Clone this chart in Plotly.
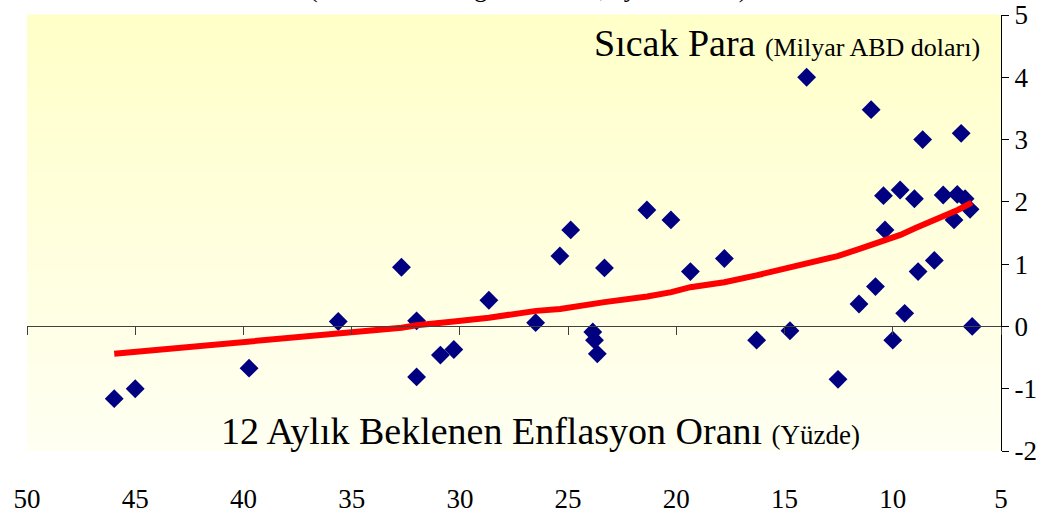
import plotly.graph_objects as go

# Data
inflation = [45.97, 45.0, 39.74, 35.62, 32.7, 32.0, 32.0, 30.9, 30.28, 28.66,
             26.5, 25.38, 24.88, 23.86, 23.78, 23.65, 23.32, 21.36, 20.25, 19.35,
             17.78, 16.29, 14.75, 13.98, 12.53, 11.56, 11.0, 10.8, 10.43, 10.36,
             10.0, 9.66, 9.45, 9.0, 8.83, 8.62, 8.08, 7.67, 7.17, 7.02,
             6.84, 6.66, 6.43, 6.33]
hot_money = [-1.16, -1.0, -0.67, 0.08, 0.95, 0.09, -0.81, -0.46, -0.37, 0.42,
             0.06, 1.13, 1.55, -0.09, -0.22, -0.44, 0.94, 1.87, 1.71, 0.88,
             1.09, -0.22, -0.07, 4.0, -0.85, 0.36, 3.48, 0.64, 2.1, 1.55,
             -0.22, 2.19, 0.21, 2.05, 0.88, 3.0, 1.06, 2.11, 1.71, 2.12,
             3.1, 2.05, 1.88, 0.0]

trend_x = [45.97, 45.0, 42.9, 39.74, 37.36, 35.62, 32.69, 32.0, 30.9, 30.28,
           28.66, 26.48, 25.37, 24.88, 23.84, 23.32, 21.34, 20.23, 19.35, 17.78,
           16.3, 14.77, 13.98, 12.55, 11.57, 10.79, 10.37, 10.0, 9.65, 8.95,
           8.08, 7.69, 7.18, 7.0, 6.44, 6.35]
trend_y = [-0.44, -0.41, -0.35, -0.26, -0.17, -0.11, -0.02, 0.02, 0.05, 0.08,
           0.14, 0.25, 0.28, 0.31, 0.36, 0.39, 0.48, 0.55, 0.63, 0.71,
           0.82, 0.94, 1.02, 1.13, 1.24, 1.33, 1.40, 1.43, 1.47, 1.58,
           1.70, 1.76, 1.84, 1.87, 1.97, 1.99]

x_ticks = [50, 45, 40, 35, 30, 25, 20, 15, 10, 5]
x_tick_labels = ["50", "45", "40", "35", "30", "25", "20", "15", "10", "5"]
y_ticks = [-2, -1, 0, 1, 2, 3, 4, 5]
y_tick_labels = ["-2", "-1", "0", "1", "2", "3", "4", "5"]

title_text = "(Ocak 2002 – Ağustos 2005, aylık veriler)"
y_title = "Sıcak Para"
y_unit = "(Milyar ABD doları)"
x_title = "12 Aylık Beklenen Enflasyon Oranı"
x_unit = "(Yüzde)"

SERIF = "Liberation Serif, Times New Roman, serif"

fig = go.Figure()
fig.add_trace(go.Scatter(
    x=inflation, y=hot_money, mode="markers",
    marker=dict(symbol="diamond", size=14.5, color="#000080",
                line=dict(width=0)),
    xaxis="x", yaxis="y", showlegend=False, hoverinfo="skip"))
fig.add_trace(go.Scatter(
    x=trend_x, y=trend_y, mode="lines",
    line=dict(color="#FF0000", width=6),
    xaxis="x2", yaxis="y", showlegend=False, hoverinfo="skip"))

# gradient background (pale yellow at top to near white at bottom)
shapes = []
n = 60
top = (255, 255, 200)
bot = (255, 255, 242)
for i in range(n):
    t = i / (n - 1)
    c = tuple(round(bot[k] + (top[k] - bot[k]) * t) for k in range(3))
    shapes.append(dict(type="rect", xref="paper", yref="paper",
                       x0=0, x1=1, y0=i / n, y1=(i + 1) / n + 0.001,
                       fillcolor="rgb(%d,%d,%d)" % c, line=dict(width=0),
                       layer="below"))

fig.update_layout(
    width=1059, height=517,
    margin=dict(l=27, r=58, t=15, b=66, autoexpand=False),
    paper_bgcolor="white",
    plot_bgcolor="rgba(0,0,0,0)",
    shapes=shapes,
    xaxis=dict(range=[50, 5], domain=[0, 1], showline=False, showgrid=False,
               zeroline=False, tickvals=x_ticks, ticktext=x_tick_labels,
               ticks="outside", ticklen=24, tickcolor="rgba(0,0,0,0)",
               automargin=False,
               tickfont=dict(family=SERIF, size=27, color="black")),
    xaxis2=dict(range=[50, 5], overlaying="x", anchor="free", position=2 / 7,
                side="bottom", showline=True, linecolor="#404040", linewidth=1,
                ticks="outside", ticklen=8, tickcolor="#404040", tickwidth=1,
                tickvals=x_ticks, showticklabels=False, showgrid=False,
                zeroline=False, automargin=False),
    yaxis=dict(range=[-2, 5], side="right", showline=True, linecolor="black",
               linewidth=1, ticks="outside", ticklen=7, tickcolor="black",
               tickvals=y_ticks, ticktext=y_tick_labels, showgrid=False,
               zeroline=False, automargin=False,
               tickfont=dict(family=SERIF, size=27, color="black")),
    annotations=[
        dict(text=y_title + " <span style='font-size:26px'>" + y_unit + "</span>",
             xref="paper", yref="paper", x=0.9805, y=0.936,
             xanchor="right", yanchor="middle", showarrow=False,
             font=dict(family=SERIF, size=38, color="black")),
        dict(text=x_title + " <span style='font-size:27px'>" + x_unit + "</span>",
             xref="paper", yref="paper", x=0.857, y=0.046,
             xanchor="right", yanchor="middle", showarrow=False,
             font=dict(family=SERIF, size=38, color="black")),
        dict(text=title_text, xref="paper", yref="paper", x=0.514, y=1.022,
             xanchor="center", yanchor="bottom", showarrow=False,
             font=dict(family=SERIF, size=26, color="black")),
    ],
)

fig.write_html("out.html", config={"displayModeBar": False},
               post_script="document.body.style.margin='0';")
